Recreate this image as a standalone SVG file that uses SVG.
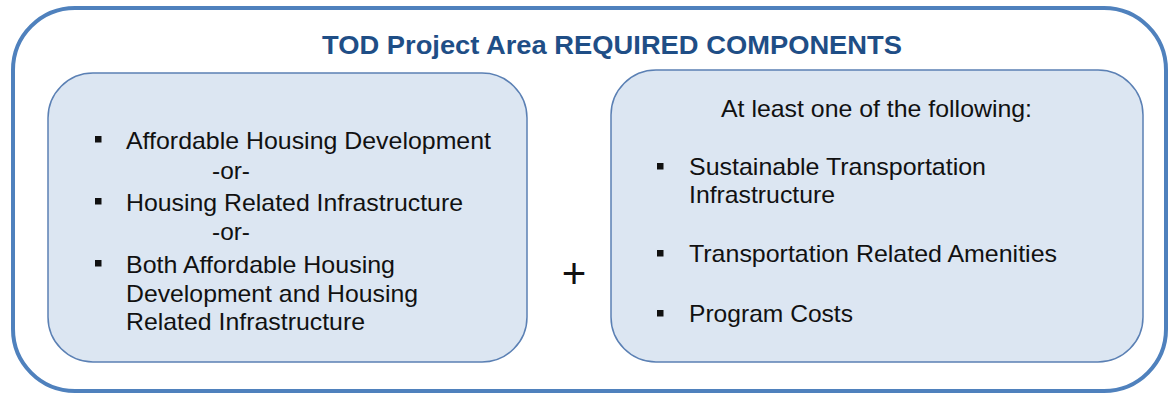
<svg xmlns="http://www.w3.org/2000/svg" width="1176" height="395" viewBox="0 0 1176 395">
<style>
.outer{fill:#ffffff;stroke:#4f81bd;stroke-width:4}
.box{fill:#dce6f2;stroke:#5b80b4;stroke-width:1.5}
.t{font-family:"Liberation Sans",Arial,sans-serif;font-size:24px;fill:#111111}
.title{font-family:"Liberation Sans",Arial,sans-serif;font-size:25.5px;font-weight:bold;fill:#1f4e86}
.bul{fill:#111111}
</style>
<rect width="1176" height="395" fill="#ffffff"/>
<g id="frame">
<rect class="outer" x="13" y="8" width="1153" height="383" rx="62" ry="62"/>
<text class="title" x="322" y="54" textLength="580" lengthAdjust="spacingAndGlyphs">TOD Project Area REQUIRED COMPONENTS</text>
</g>
<g id="housing">
<rect class="box" x="48" y="73" width="479" height="289" rx="45" ry="45"/>
<rect class="bul" x="95" y="136" width="6.5" height="6.5"/>
<text class="t" x="126" y="149" textLength="365" lengthAdjust="spacingAndGlyphs">Affordable Housing Development</text>
<text class="t" x="212" y="179" textLength="38" lengthAdjust="spacingAndGlyphs">-or-</text>
<rect class="bul" x="95" y="198" width="6.5" height="6.5"/>
<text class="t" x="126" y="211" textLength="337" lengthAdjust="spacingAndGlyphs">Housing Related Infrastructure</text>
<text class="t" x="212" y="240" textLength="38" lengthAdjust="spacingAndGlyphs">-or-</text>
<rect class="bul" x="95" y="260" width="6.5" height="6.5"/>
<text class="t" x="126" y="273" textLength="269" lengthAdjust="spacingAndGlyphs">Both Affordable Housing</text>
<text class="t" x="126" y="302" textLength="292" lengthAdjust="spacingAndGlyphs">Development and Housing</text>
<text class="t" x="126" y="330" textLength="239" lengthAdjust="spacingAndGlyphs">Related Infrastructure</text>
</g>
<g id="plus">
<text x="574" y="288" text-anchor="middle" style="font-family:'Liberation Sans',Arial,sans-serif;font-size:42px;fill:#111111">+</text>
</g>
<g id="transportation">
<rect class="box" x="611" y="70" width="532" height="292" rx="45" ry="45"/>
<text class="t" x="721" y="117" textLength="311" lengthAdjust="spacingAndGlyphs">At least one of the following:</text>
<rect class="bul" x="657" y="163" width="6.5" height="6.5"/>
<text class="t" x="689" y="175" textLength="297" lengthAdjust="spacingAndGlyphs">Sustainable Transportation</text>
<text class="t" x="689" y="203" textLength="146" lengthAdjust="spacingAndGlyphs">Infrastructure</text>
<rect class="bul" x="657" y="250" width="6.5" height="6.5"/>
<text class="t" x="689" y="262" textLength="368" lengthAdjust="spacingAndGlyphs">Transportation Related Amenities</text>
<rect class="bul" x="657" y="310" width="6.5" height="6.5"/>
<text class="t" x="689" y="322" textLength="164" lengthAdjust="spacingAndGlyphs">Program Costs</text>
</g>
<g id="connectors"></g>
</svg>
